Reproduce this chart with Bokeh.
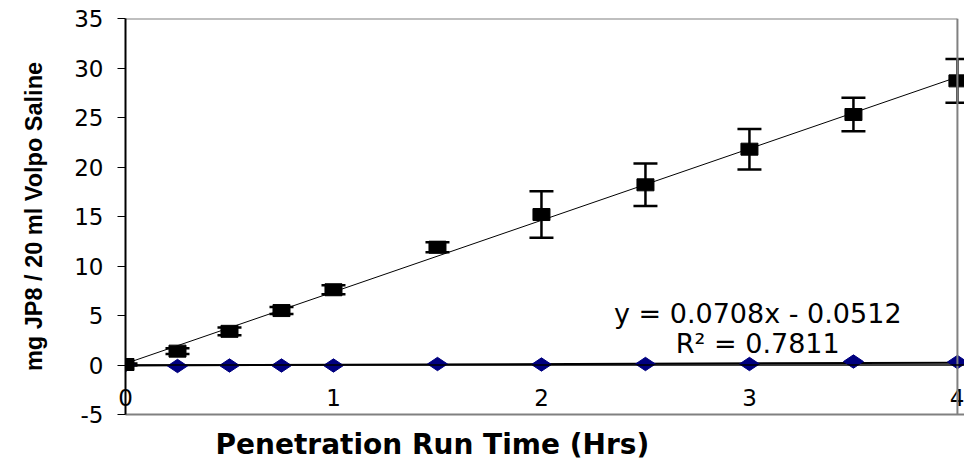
import numpy as np
from bokeh.plotting import figure
from bokeh.models import (Range1d, Whisker, TeeHead, ColumnDataSource, Span,
                          Title, FixedTicker)
from bokeh.core.properties import value
from bokeh.embed import file_html
from bokeh.resources import INLINE

# ---- data ----
hours = [0, 0.25, 0.5, 0.75, 1, 1.5, 2, 2.5, 3, 3.5, 4]
jp8_mg = [0.05, 1.4, 3.4, 5.5, 7.6, 11.9, 15.2, 18.2, 21.8, 25.3, 28.7]
jp8_err = [0.1, 0.3, 0.4, 0.35, 0.45, 0.5, 2.35, 2.15, 2.05, 1.7, 2.2]
control_mg = [0.0, -0.1, -0.05, -0.05, -0.05, 0.1, 0.05, 0.1, 0.1, 0.35, 0.3]
fit_slope = 0.0708
fit_intercept = -0.0512
fit_r2 = 0.7811
x_ticks = [0, 1, 2, 3, 4]
y_ticks = [-5, 0, 5, 10, 15, 20, 25, 30, 35]
y_tick_labels = ["-5", "0", "5", "10", "15", "20", "25", "30", "35"]
x_title = "Penetration Run Time (Hrs)"
y_title = "mg JP8 / 20 ml Volpo Saline"
eq_line1 = "y = 0.0708x - 0.0512"
eq_line2 = "R\u00b2 = 0.7811"

W, H = 964, 473
p = figure(width=W, height=H, output_backend="svg", toolbar_location=None,
           x_range=Range1d(x_ticks[0], x_ticks[-1] + 0.034),
           y_range=Range1d(y_ticks[0], y_ticks[-1]),
           min_border_left=125, min_border_right=0, min_border_top=18,
           min_border_bottom=59)
p.outline_line_color = None
p.grid.visible = False
p.background_fill_color = "white"
p.border_fill_color = "white"

# y axis
p.yaxis.ticker = FixedTicker(ticks=y_ticks)
p.yaxis.major_label_overrides = dict(zip(y_ticks, y_tick_labels))
p.yaxis.minor_tick_line_color = None
p.yaxis.major_tick_in = 0
p.yaxis.major_tick_out = 8
p.yaxis.major_tick_line_color = "black"
p.yaxis.major_tick_line_width = 1
p.yaxis.axis_line_color = "black"
p.yaxis.axis_line_width = 2
p.yaxis.major_label_text_font = "DejaVu Sans"
p.yaxis.major_label_text_font_size = "23px"
p.yaxis.major_label_text_color = "black"
p.yaxis.major_label_standoff = 14
p.yaxis.axis_label = y_title
p.yaxis.axis_label_text_font = "Liberation Sans"
p.yaxis.axis_label_text_font_style = "bold"
p.yaxis.axis_label_text_font_size = "23.5px"
p.yaxis.axis_label_text_color = "black"
p.yaxis.axis_label_standoff = 24

# x axis (labels drawn just above the lower border, as in the reference)
p.xaxis.ticker = FixedTicker(ticks=x_ticks)
p.xaxis.minor_tick_line_color = None
p.xaxis.major_tick_line_color = None
p.xaxis.major_tick_in = 0
p.xaxis.major_tick_out = 0
p.xaxis.axis_line_color = "#808080"
p.xaxis.axis_line_width = 2
p.xaxis.major_label_text_font = "DejaVu Sans"
p.xaxis.major_label_text_font_size = "23px"
p.xaxis.major_label_text_color = "black"
p.xaxis.major_label_standoff = -26

p.add_layout(Title(text=x_title, align="left", offset=90,
                   text_font="DejaVu Sans", text_font_style="bold",
                   text_font_size="28px", text_color="black", standoff=22),
             "below")

# plot-area border (top, right) and zero line
p.line([x_ticks[0], x_ticks[-1]], [y_ticks[-1], y_ticks[-1]],
       line_color="#808080", line_width=2)
p.add_layout(Span(location=x_ticks[-1], dimension="height",
                  line_color="#808080", line_width=2))
p.add_layout(Span(location=0, dimension="width", line_color="black",
                  line_width=1.5))

# trendline for JP8 series (least-squares fit)
k, b = np.polyfit(hours, jp8_mg, 1)
p.line([hours[0], hours[-1]], [k * hours[0] + b, k * hours[-1] + b],
       line_color="black", line_width=1)

# trendline for control series (equation shown)
p.line([hours[0], hours[-1]],
       [fit_slope * hours[0] + fit_intercept, fit_slope * hours[-1] + fit_intercept],
       line_color="black", line_width=2)

# error bars
src = ColumnDataSource(dict(
    x=hours, y=jp8_mg,
    upper=[v + e for v, e in zip(jp8_mg, jp8_err)],
    lower=[v - e for v, e in zip(jp8_mg, jp8_err)]))
p.add_layout(Whisker(source=src, base="x", upper="upper", lower="lower",
                     line_color="black", line_width=2.5,
                     upper_head=TeeHead(size=24, line_color="black", line_width=2.5),
                     lower_head=TeeHead(size=24, line_color="black", line_width=2.5)))

# control diamonds
p.scatter(hours, control_mg, marker="diamond", size=20, angle=np.pi / 2,
          fill_color="#000080", line_color="#000080")

# JP8 squares
p.rect("x", "y", width=17, height=12, width_units="screen",
       height_units="screen", source=src, fill_color="black",
       line_color="black")

# regression text
p.text(x=[3.04, 3.04], y=[5.2, 2.2], text=[eq_line1, eq_line2],
       text_font=value("DejaVu Sans"), text_font_size="27px",
       text_align="center", text_baseline="alphabetic", text_color="black")

open("out.html", "w").write(file_html(p, INLINE))
